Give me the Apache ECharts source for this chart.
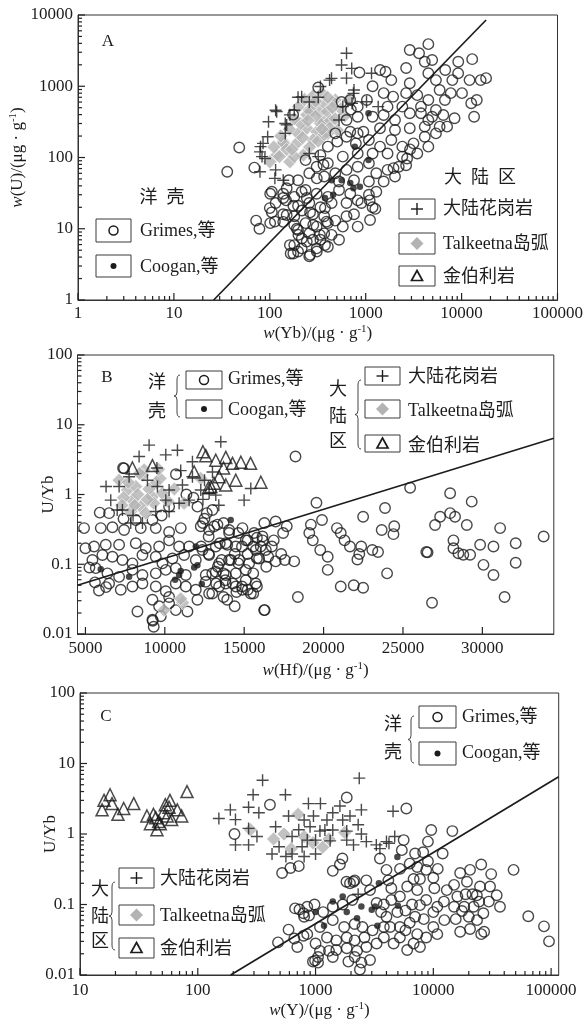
<!DOCTYPE html>
<html>
<head>
<meta charset="utf-8">
<script src="https://cdn.jsdelivr.net/npm/echarts@6/dist/echarts.min.js"></script>
<style>
  html, body { margin: 0; padding: 0; background: #fff; }
  #chart { width: 584px; height: 1022px; }
</style>
</head>
<body>
<div id="chart"></div>
<script>
// ---------- Tick labels ----------
const aXTicks = [1, 10, 100, 1000, 10000, 100000];
const aYTicks = [1, 10, 100, 1000, 10000];
const bXTicks = [5000, 10000, 15000, 20000, 25000, 30000];
const bYTicks = [0.01, 0.1, 1, 10, 100];
const cXTicks = [10, 100, 1000, 10000, 100000];
const cYTicks = [0.01, 0.1, 1, 10, 100];

// ---------- Panel A: w(U) vs w(Yb) ----------
const aGrimes = [
  [2880,3230],[3600,2900],[4500,3900],[4130,2210],[4930,2340],[9230,2210],[12900,2400],
  [1410,1690],[1610,1600],[2640,1800],[4500,1520],[6750,1690],[9200,1520],[12100,1220],[15800,1220],[18000,1300],
  [860,1560],[1180,1000],[320,960],[1850,1220],[2880,1100],[5400,1220],[8000,1220],[14400,640],[13500,374],
  [690,640],[1030,640],[1540,800],[1930,714],[2640,800],[3450,750],[4500,640],[5900,885],[7700,800],[10100,800],
  [12600,576],[1690,517],[825,517],[2410,517],[3770,517],[6700,640],
  [631,336],[825,374],[1180,374],[1540,395],[2020,336],[2880,417],[3770,417],[4930,374],[6450,395],[8440,355],
  [5900,271],[4130,271],[2880,257],[2020,243],[1410,257],[945,230],[690,230],[4500,336],[7060,271],[5400,464],
  [403,142],[505,167],[631,196],[790,158],[1080,176],[1410,142],[1850,176],[2410,142],[3150,158],[4130,196],
  [3450,114],[2410,103],[1690,114],[1180,114],[825,114],[577,103],[337,108],[5400,218],[4500,142],[825,218],[482,218],
  [236,92],[308,74],[403,83],[482,60],[631,67],[825,74],[1080,83],[1290,60],[1690,67],[2020,54],[1540,46],[1080,46],
  [755,48],[527,46],[369,54],[258,60],[197,48],[158,48],[2210,74],[2640,78],
  [138,31],[180,28],[236,35],[308,31],[403,28],[527,35],[690,31],[825,25],[1080,30],[1290,33],[1180,20],[902,23],
  [631,23],[441,23],[337,20],[258,23],[197,21],[148,25],[101,31],[115,23],
  [105,17],[138,16],[180,15],[216,18],[282,16],[369,15],[482,13],[631,15],[755,16],[825,10.7],[577,10.7],[403,12],
  [308,10.7],[236,12],[180,11.3],[138,12.5],[101,12],
  [197,9.6],[258,8.6],[337,7.0],[441,8.2],[527,7.0],[403,5.6],[308,5.3],[258,4.1],[197,4.8],[165,4.5],[216,7.3],
  [282,7.0],[369,8.6],[180,5.9],
  [36,63],[48,138],[69,72],[72,13],[78,10],[175,400],[560,600],[700,470],
  [105,33],[100,19.5],[113,12.6],[138,27],[150,15.6],[176,21],[191,10],[162,5.9],[176,4.5],[199,8.2],[215,5.3],
  [243,6.6],[263,4.3],[309,4.8],[333,8.2],[284,11.3],[263,17],[243,27],[215,33],[309,51],[363,79],[376,19.5],
  [390,12.6],[376,5.9],[150,37],[1110,13.3],[1260,19],[1100,25],[2700,97],[2900,130],[1950,71]
];
const aCoogan = [
  [1070,417],[770,142],[1070,92],[442,48],[562,48],[690,44],[745,37],[870,39],[376,27],[457,30]
];
const aGranite = [
  [631,2900],[560,1990],[715,1780],[1150,1520],[440,1290],[420,1220],[337,990],[631,1300],[755,885],[745,795],
  [1020,605],[320,700],[215,710],[197,700],[258,600],[118,440],[115,460],[97,318],[145,300],[150,287],[180,460],
  [162,397],[145,218],[85,158],[95,196],[79,120],[89,97],[80,142],[83,103],[79,63],[113,51],[115,67],[138,48],
  [258,114],[320,103],[577,517],[527,336],[720,576],[1350,517]
];
const aTalkeetna = [
  [243,397],[333,440],[363,318],[243,257],[309,230],[138,166],[191,158],[224,108],[118,108],[162,87],[100,87],
  [258,464],[369,576],[482,641],[337,302],[505,243],[197,218],[138,158],[126,103],[180,103],[282,176],[403,218],
  [605,384],[660,641],[455,605],[397,440],[263,440],[150,130],[210,300],[430,330],[290,560],
  [200,520],[230,650],[280,720],[350,800],[400,700],[300,380],[180,350],[160,250],[220,190],[260,140],[320,170],
  [370,210],[420,260],[480,350],[550,480],[130,200],[110,140],[170,130],[300,620],[250,330],[350,250],[450,500]
];
const aTrend = [[26,1],[18000,8500]];

// ---------- Panel B: U/Yb vs w(Hf) ----------
const bGrimes = [
  [18230,3.5],[19550,0.76],[19900,0.43],[19200,0.37],[19100,0.28],[19320,0.22],[19790,0.16],[20260,0.128],
  [20260,0.083],[20840,0.33],[21080,0.28],[21320,0.22],[21660,0.18],[22250,0.14],[22490,0.48],[22370,0.18],
  [22130,0.117],[23070,0.16],[23430,0.15],[23870,0.64],[23660,0.31],[24450,0.35],[24400,0.27],[24000,0.074],
  [25450,1.25],[21080,0.048],[21900,0.05],[22490,0.046],[18380,0.034],[16290,0.022],[26470,0.15],[26550,0.148],
  [26830,0.028],[27020,0.366],[27340,0.48],[27970,0.54],[28280,0.48],[27970,1.04],[28180,0.22],[28180,0.17],
  [28490,0.144],[28800,0.137],[29230,0.137],[29020,0.366],[29330,0.79],[29860,0.19],[30070,0.098],[30700,0.18],
  [30700,0.07],[31120,0.33],[31400,0.034],[32100,0.20],[32100,0.105],[33860,0.25],
  [17680,0.35],[16980,0.41],[16270,0.39],[17450,0.28],[16860,0.22],[16160,0.22],[15800,0.24],[16040,0.18],
  [16740,0.18],[17330,0.14],[17560,0.115],[18150,0.11],[16510,0.128],[16980,0.11],[16390,0.092],[15800,0.122],
  [15220,0.14],[15570,0.18],[15220,0.22],[14630,0.28],[14860,0.18],[14400,0.14],[13930,0.19],[14160,0.115],
  [14630,0.103],[15100,0.083],[15570,0.074],[15800,0.048],[15570,0.038],[15220,0.043],[14860,0.048],[14510,0.04],
  [14280,0.053],[13810,0.059],[13700,0.074],[13340,0.092],[13580,0.115],[12990,0.074],[13230,0.053],[13700,0.034],
  [13930,0.031],[14400,0.025],[12990,0.038],[12760,0.14],[12290,0.18],[12760,0.25],[13460,0.20],[14050,0.28],
  [13700,0.39],[13110,0.35],[12400,0.39],[12640,0.54],
  [4915,0.33],[5965,0.33],[6700,0.34],[7435,0.31],[8485,0.33],[9430,0.33],[10270,0.29],[11005,0.33],[12265,0.35],
  [12790,0.31],[13315,0.37],[14050,0.31],[14890,0.33],[15625,0.28],[16150,0.25],
  [5545,0.18],[6280,0.19],[7120,0.19],[8170,0.20],[8800,0.17],[9640,0.18],[10270,0.22],[10900,0.18],[11530,0.18],
  [12370,0.16],[13210,0.18],[13840,0.20],[14470,0.18],[15100,0.22],[15730,0.16],[16360,0.16],
  [5440,0.115],[6070,0.136],[6700,0.128],[7330,0.115],[7960,0.103],[8590,0.136],[9430,0.128],[9850,0.103],
  [10480,0.121],[11215,0.136],[11950,0.115],[12790,0.136],[13420,0.103],[14050,0.115],[14680,0.115],[15310,0.103],
  [15940,0.121],
  [5650,0.088],[6385,0.074],[7120,0.066],[7960,0.083],[8590,0.070],[9430,0.074],[10060,0.083],[10690,0.088],
  [11320,0.070],[12580,0.070],[13210,0.078],[13840,0.070],[14470,0.074],[15100,0.059],[15730,0.053],
  [6490,0.053],[7225,0.043],[7960,0.048],[8590,0.053],[9430,0.048],[10060,0.041],[10690,0.053],[11320,0.048],
  [11950,0.043],[12580,0.056],[13420,0.048],[13840,0.053],[14470,0.048],[14890,0.043],[15415,0.038],
  [8275,0.021],[9220,0.031],[9640,0.025],[10270,0.034],[10690,0.022],[11425,0.021],[12055,0.031],[12790,0.038],
  [9220,0.016],[9745,0.018],[10270,0.0275],[16255,0.022],[9240,0.0155],[9300,0.0127],
  [5250,0.09],[5600,0.055],[5850,0.042],[6300,0.047],[5000,0.17],
  [7435,2.37],[10700,1.95],[12055,0.67],[10270,0.67],[8170,0.43],[9220,0.43],[6490,0.54],[11360,1.0],[12500,0.45],
  [9800,0.5],[7400,0.45],[5900,0.55],[11800,0.9],[13000,0.6],[7370,2.4]
];
const bCoogan = [
  [5965,0.085],[7750,0.066],[10900,0.070],[11000,0.080],[10650,0.060],[11850,0.090],[12050,0.097],[12330,0.052],
  [11950,0.18],[14150,0.43]
];
const bGranite = [
  [9010,5.1],[13525,5.7],[8380,3.5],[10060,3.7],[10795,4.3],[11740,2.95],[7120,1.3],[7750,1.8],[6595,0.83],
  [7330,0.60],[8905,1.6],[9535,1.3],[10270,1.16],[11110,1.37],[11740,1.8],[12265,1.16],[12790,1.04],[13210,0.98],
  [15415,1.22],[14995,0.83],[9430,0.57],[10270,0.57],[8590,0.39],[7855,0.39],[10060,0.83],[10900,0.75],[11530,0.83],
  [6300,1.3],[7000,0.6],[9500,2.4],[12500,1.6],[13000,2.1],[8000,0.5],[11000,2.2],[12400,0.85],[13400,0.7]
];
const bTalkeetna = [
  [8700,2.25],[7650,1.16],[8170,1.3],[7960,0.83],[8485,0.67],[9220,0.93],[8800,0.54],[9850,1.04],[12265,1.7],
  [11215,0.75],[7120,1.6],[7855,0.57],[9430,1.45],[9950,0.022],[11120,0.028],[11000,0.032],
  [7400,0.9],[7700,1.5],[8300,1.0],[8600,1.9],[9000,1.2],[9300,0.75],[9700,1.7],[8100,0.7],[7300,0.7],
  [8900,0.85],[10200,0.8],[10600,1.2],[8400,2.0],[9600,2.3]
];
const bKimberlite = [
  [7960,2.4],[9220,2.6],[11850,2.1],[12580,3.6],[13210,3.1],[13840,3.4],[14260,2.8],[14790,2.9],[13100,1.45],
  [13420,1.8],[13840,1.37],[14470,1.6],[16050,1.5],[15400,2.8],[12900,1.3],[13700,2.4],[12400,4.1],[12750,1.25]
];
const bTrend = [[4500,0.05],[34500,6.4]];

// ---------- Panel C: U/Yb vs w(Y) ----------
const cGrimes = [
  [1840,3.3],[5900,2.3],[1690,0.45],[1610,0.37],[1400,0.30],[3520,0.45],[5210,0.32],[5600,0.82],[5400,0.59],
  [9600,1.14],[9000,0.78],[14500,1.1],[12000,0.53],[25500,0.37],[31000,0.27],[20500,0.31],[16900,0.28],[19300,0.21],
  [24900,0.18],[30300,0.18],[34500,0.135],[36800,0.093],[29600,0.11],[23400,0.135],[18800,0.14],[15000,0.19],
  [16000,0.13],[13000,0.16],[22000,0.093],[26600,0.075],[18300,0.093],[15000,0.093],[12300,0.11],[10200,0.17],
  [10000,0.24],[8700,0.31],[7300,0.34],[7700,0.23],[10900,0.32],[9000,0.41],[7000,0.53],[8200,0.55],[6300,0.38],
  [6800,0.23],[6000,0.18],[7300,0.16],[8700,0.116],[10800,0.093],[7700,0.098],[6600,0.10],[5200,0.13],[4400,0.17],
  [4400,0.116],[4950,0.078],[5800,0.082],[7000,0.067],[8300,0.062],[10000,0.078],[12400,0.06],[15500,0.062],
  [20000,0.067],[25500,0.038],[16900,0.041],[10000,0.048],[10800,0.038],[8700,0.034],[7300,0.038],[6300,0.055],
  [5200,0.048],[5800,0.043],[7700,0.025],[6800,0.028],[5200,0.034],[4600,0.028],[4300,0.048],[4000,0.067],
  [3800,0.10],[3600,0.078],[3300,0.105],[2900,0.16],[2700,0.22],[4150,0.22],[4000,0.31],[2150,0.22],[1960,0.2],
  [2050,0.116],[1700,0.10],[1400,0.093],[1160,0.078],[980,0.10],[850,0.093],[800,0.067],[850,0.038],[1090,0.048],
  [1400,0.06],[1750,0.048],[2150,0.053],[2500,0.048],[3050,0.043],[3800,0.048],[2600,0.034],[2150,0.031],
  [1840,0.034],[1500,0.031],[1250,0.034],[1000,0.028],[1090,0.022],[1300,0.022],[1500,0.0226],[1840,0.024],
  [2250,0.022],[2700,0.025],[3300,0.028],[3800,0.034],[950,0.0155],[1050,0.018],[2150,0.018],[2450,0.015],
  [2380,0.012],[2900,0.0163],[1900,0.0155],[1400,0.018],[6000,0.0226],
  [480,0.029],[590,0.044],[660,0.033],[700,0.025],[790,0.036],[670,0.088],[730,0.085],[790,0.075],[880,0.07],
  [990,0.016],[1050,0.015],[205,1.0],[410,2.6],[520,0.28],[612,0.33],[720,0.35],[1830,0.21],[2100,0.21],
  [48000,0.31],[64000,0.068],[87000,0.049],[96000,0.03],[27000,0.041],[23500,0.06],[20500,0.045],[17500,0.081],
  [24500,0.11],[21500,0.14]
];
const cCoogan = [
  [1000,0.078],[1180,0.05],[1400,0.11],[1700,0.13],[1840,0.078],[2250,0.064],[2450,0.094],[3000,0.084],
  [3200,0.094],[3350,0.05],[3450,0.20],[4950,0.47],[5000,0.096]
];
const cGranite = [
  [355,5.8],[2350,6.2],[295,3.6],[151,1.66],[189,2.2],[209,1.6],[270,2.4],[330,2.0],[270,1.2],[318,0.92],
  [209,0.7],[270,0.7],[458,1.27],[555,3.6],[590,1.8],[720,1.15],[870,2.7],[1100,2.7],[800,1.58],[632,0.92],
  [490,0.66],[769,0.66],[1000,0.82],[1200,1.14],[800,0.48],[560,0.48],[427,0.52],[632,0.52],
  [1610,2.5],[1400,2.0],[960,1.8],[1250,1.58],[1700,1.58],[1960,1.8],[2450,2.2],[2300,1.35],[898,1.27],[1090,1.1],
  [1400,1.14],[1840,1.1],[2450,1.0],[850,0.82],[1330,0.8],[1840,0.82],[2100,0.7],[2700,0.78],[3280,0.7],[4000,0.78],
  [4700,0.92],[4550,2.1],[1000,0.52],[3520,0.62],[2300,0.14],[4200,0.74]
];
const cTalkeetna = [
  [280,1.15],[440,0.85],[710,1.9],[620,0.62],[800,0.92],[1150,0.65],[1300,0.85],[1770,1.05],[540,1.0],[950,0.75]
];
const cKimberlite = [
  [15.4,2.2],[16,3.0],[18,3.6],[18.7,2.7],[21,1.9],[23.5,2.3],[28.6,2.7],[37,1.8],[39.6,1.4],[45,1.15],[46.5,1.5],
  [51,2.0],[57,2.4],[58,3.0],[60,1.6],[67,2.2],[73,1.8],[81,4.0],[55,1.8],[48,1.4],[42,1.9],[53,2.6],[44,1.7]
];
const cTrend = [[190,0.01],[116000,6.5]];

// ---------- Styling ----------
const INK = '#1c1c1c';
const FRAME = '#333';
const GREY = '#b3b3b3';
const SERIF = '"Liberation Serif", "DejaVu Serif", serif';
const MIXED = '"Liberation Serif", "Noto Sans CJK SC", serif';
const fmt = v => String(+Number(v).toPrecision(6));

// 2..9 sub-ticks of every decade in [lo, hi)
function minorTicks(lo, hi) {
  const out = [];
  for (let d = lo; d < hi * 0.999; d *= 10) {
    for (let k = 2; k <= 9; k++) out.push(+(d * k).toPrecision(6));
  }
  return out;
}

const EPS = 1e-9;
function mainAxis(kind, gridIndex, min, max, ticks, extra) {
  return Object.assign({
    type: kind, gridIndex: gridIndex, logBase: 10,
    min: kind === 'log' ? min * (1 - EPS) : min,
    max: kind === 'log' ? max * (1 + EPS) : max,
    silent: true, nameMoveOverlap: false,
    axisLine: { show: true, onZero: false, lineStyle: { color: FRAME, width: 1 } },
    axisTick: { show: false },
    axisLabel: { show: true, customValues: ticks, formatter: fmt, margin: 5, color: INK, fontFamily: SERIF, fontSize: 17 },
    splitLine: { show: false }, minorTick: { show: false }, axisPointer: { show: false }
  }, extra || {});
}

const nameStyle = {
  fontFamily: SERIF, fontSize: 17, color: INK, lineHeight: 20,
  rich: {
    i: { fontFamily: SERIF, fontSize: 17, fontStyle: 'italic', color: INK, lineHeight: 20 },
    s: { fontFamily: SERIF, fontSize: 11, color: INK, verticalAlign: 'top', lineHeight: 20 }
  }
};

const xAxes = [
  mainAxis('log', 0, 1, 100000, aXTicks, { position: 'bottom', name: '{i|w}(Yb)/(μg · g{s|-1})',
    nameLocation: 'middle', nameGap: 24, nameTextStyle: nameStyle }),
  mainAxis('value', 1, 4500, 34500, bXTicks, { position: 'bottom', name: '{i|w}(Hf)/(μg · g{s|-1})',
    nameLocation: 'middle', nameGap: 27, nameTextStyle: nameStyle,
    axisLabel: { show: true, customValues: bXTicks, formatter: fmt, margin: 6, color: INK, fontFamily: SERIF, fontSize: 17 } }),
  mainAxis('log', 2, 10, 116000, cXTicks, { position: 'bottom', name: '{i|w}(Y)/(μg · g{s|-1})',
    nameLocation: 'middle', nameGap: 26, nameTextStyle: nameStyle,
    axisLabel: { show: true, customValues: cXTicks, formatter: fmt, margin: 7, color: INK, fontFamily: SERIF, fontSize: 17 } })
];
const yAxes = [
  mainAxis('log', 0, 1, 10000, aYTicks, { position: 'left', name: '{i|w}(U)/(μg · g{s|-1})',
    nameLocation: 'middle', nameRotate: 90, nameGap: 50, nameTextStyle: nameStyle }),
  mainAxis('log', 1, 0.01, 100, bYTicks, { position: 'left', name: 'U/Yb',
    nameLocation: 'middle', nameRotate: 90, nameGap: 19, nameTextStyle: nameStyle }),
  mainAxis('log', 2, 0.01, 100, cYTicks, { position: 'left', name: 'U/Yb',
    nameLocation: 'middle', nameRotate: 90, nameGap: 19, nameTextStyle: nameStyle })
];

// ---------- Marks ----------
const PLUS = 'path://M0,6L12,6M6,0L6,12';
const markStyles = {
  grimes: { symbol: 'circle', symbolSize: 10.5, itemStyle: { color: 'rgba(0,0,0,0)', borderColor: INK, borderWidth: 1.4 } },
  coogan: { symbol: 'circle', symbolSize: 6.5, itemStyle: { color: INK, borderWidth: 0 } },
  granite: { symbol: PLUS, symbolSize: 12, itemStyle: { color: 'rgba(0,0,0,0)', borderColor: INK, borderWidth: 1.4 } },
  talkeetna: { symbol: 'diamond', symbolSize: 14, itemStyle: { color: GREY, borderColor: '#fff', borderWidth: 0.8 } },
  kimberlite: { symbol: 'triangle', symbolSize: 12, itemStyle: { color: 'rgba(0,0,0,0)', borderColor: INK, borderWidth: 1.5 } }
};
function scatter(kind, data, xi, yi) {
  const s = markStyles[kind];
  return {
    type: 'scatter', name: kind, data: data, xAxisIndex: xi, yAxisIndex: yi,
    symbol: s.symbol, symbolSize: s.symbolSize, itemStyle: s.itemStyle,
    silent: true, emphasis: { disabled: true }, animation: false
  };
}
function trend(data, xi, yi) {
  return {
    type: 'line', data: data, xAxisIndex: xi, yAxisIndex: yi, showSymbol: false, symbol: 'none',
    lineStyle: { color: INK, width: 1.7 }, silent: true, emphasis: { disabled: true }, animation: false, z: 3
  };
}

const series = [
  scatter('talkeetna', aTalkeetna, 0, 0),
  scatter('grimes', aGrimes, 0, 0),
  scatter('granite', aGranite, 0, 0),
  scatter('coogan', aCoogan, 0, 0),
  trend(aTrend, 0, 0),

  scatter('grimes', bGrimes, 1, 1),
  scatter('talkeetna', bTalkeetna, 1, 1),
  scatter('granite', bGranite, 1, 1),
  scatter('kimberlite', bKimberlite, 1, 1),
  scatter('coogan', bCoogan, 1, 1),
  trend(bTrend, 1, 1),

  scatter('grimes', cGrimes, 2, 2),
  scatter('talkeetna', cTalkeetna, 2, 2),
  scatter('granite', cGranite, 2, 2),
  scatter('kimberlite', cKimberlite, 2, 2),
  scatter('coogan', cCoogan, 2, 2),
  trend(cTrend, 2, 2)
];

// ---------- Legend boxes and panel notes ----------
function txt(x, y, text, size, align) {
  return { type: 'text', x: x, y: y, silent: true, z: 10,
    style: { text: text, fontFamily: MIXED, fontSize: size || 18, fill: INK, align: align || 'left', verticalAlign: 'middle' } };
}
function box(x, y, w, h) {
  return { type: 'rect', silent: true, z: 10, shape: { x: x, y: y, width: w, height: h },
    style: { fill: '#fff', stroke: '#3a3a3a', lineWidth: 1 } };
}
function keyIcon(kind, cx, cy) {
  if (kind === 'grimes') return [{ type: 'circle', silent: true, z: 11, shape: { cx: cx, cy: cy, r: 4.5 },
    style: { fill: 'none', stroke: INK, lineWidth: 1.5 } }];
  if (kind === 'coogan') return [{ type: 'circle', silent: true, z: 11, shape: { cx: cx, cy: cy, r: 3 },
    style: { fill: INK } }];
  if (kind === 'granite') return [
    { type: 'line', silent: true, z: 11, shape: { x1: cx - 6, y1: cy, x2: cx + 6, y2: cy }, style: { stroke: INK, lineWidth: 1.4 } },
    { type: 'line', silent: true, z: 11, shape: { x1: cx, y1: cy - 6, x2: cx, y2: cy + 6 }, style: { stroke: INK, lineWidth: 1.4 } }];
  if (kind === 'talkeetna') return [{ type: 'polygon', silent: true, z: 11,
    shape: { points: [[cx, cy - 6.5], [cx + 6.5, cy], [cx, cy + 6.5], [cx - 6.5, cy]] }, style: { fill: GREY } }];
  return [{ type: 'polygon', silent: true, z: 11,
    shape: { points: [[cx, cy - 5.5], [cx + 5.5, cy + 4.5], [cx - 5.5, cy + 4.5]] },
    style: { fill: 'none', stroke: INK, lineWidth: 1.7 } }];
}
function entry(kind, bx, by, bw, bh, label, tx, ty) {
  return [box(bx, by, bw, bh)].concat(keyIcon(kind, bx + bw / 2, by + bh / 2), [txt(tx, ty, label)]);
}
function brace(x, y1, y2) {
  const ym = (y1 + y2) / 2, st = { fill: 'none', stroke: '#444', lineWidth: 1 };
  const seg = s => ({ type: 'bezierCurve', silent: true, z: 10, shape: s, style: st });
  return [
    seg({ x1: x + 3, y1: y1, cpx1: x, cpy1: y1, x2: x, y2: y1 + 5 }),
    { type: 'line', silent: true, z: 10, shape: { x1: x, y1: y1 + 5, x2: x, y2: ym - 4 }, style: st },
    seg({ x1: x, y1: ym - 4, cpx1: x, cpy1: ym, x2: x - 3, y2: ym }),
    seg({ x1: x - 3, y1: ym, cpx1: x, cpy1: ym, x2: x, y2: ym + 4 }),
    { type: 'line', silent: true, z: 10, shape: { x1: x, y1: ym + 4, x2: x, y2: y2 - 5 }, style: st },
    seg({ x1: x, y1: y2 - 5, cpx1: x, cpy1: y2, x2: x + 3, y2: y2 })
  ];
}

const OCEAN = '洋壳', CONT = '大陆区';
const L_GRIMES = 'Grimes,等', L_COOGAN = 'Coogan,等';
const L_GRANITE = '大陆花岗岩', L_TALK = 'Talkeetna岛弧', L_KIMB = '金伯利岩';

const graphics = [].concat(
  // panel A
  [txt(108, 42, 'A', 17, 'center')],
  [txt(162, 198, OCEAN.split('').join('  '), 18, 'center')],
  entry('grimes', 96, 219, 35, 23, L_GRIMES, 140, 231),
  entry('coogan', 96, 255, 35, 22, L_COOGAN, 140, 267),
  [txt(480, 178, CONT.split('').join('  '), 18, 'center')],
  entry('granite', 399, 199, 36, 20, L_GRANITE, 443, 209),
  entry('talkeetna', 399, 233, 36, 21, L_TALK, 443, 244),
  entry('kimberlite', 399, 266, 36, 20, L_KIMB, 443, 277),
  // panel B
  [txt(107, 378, 'B', 17, 'center')],
  [txt(157, 383, OCEAN[0], 18, 'center'), txt(157, 412, OCEAN[1], 18, 'center')],
  brace(177, 375, 417),
  entry('grimes', 186, 371, 36, 18, L_GRIMES, 228, 379),
  entry('coogan', 186, 400, 36, 18, L_COOGAN, 228, 410),
  [txt(338, 390, CONT[0], 18, 'center'), txt(338, 417, CONT[1], 18, 'center'), txt(338, 442, CONT[2], 18, 'center')],
  brace(358, 380, 449),
  entry('granite', 365, 367, 35, 18, L_GRANITE, 408, 377),
  entry('talkeetna', 365, 400, 35, 18, L_TALK, 408, 411),
  entry('kimberlite', 365, 435, 35, 17, L_KIMB, 408, 446),
  // panel C
  [txt(106, 717, 'C', 17, 'center')],
  [txt(393, 725, OCEAN[0], 18, 'center'), txt(393, 753, OCEAN[1], 18, 'center')],
  brace(411, 716, 763),
  entry('grimes', 419, 706, 37, 22, L_GRIMES, 462, 717),
  entry('coogan', 419, 742, 37, 23, L_COOGAN, 462, 753),
  [txt(100, 890, CONT[0], 18, 'center'), txt(100, 917, CONT[1], 18, 'center'), txt(100, 942, CONT[2], 18, 'center')],
  brace(112, 882, 950),
  entry('granite', 119, 868, 35, 20, L_GRANITE, 160, 879),
  entry('talkeetna', 119, 905, 35, 20, L_TALK, 160, 916),
  entry('kimberlite', 119, 938, 35, 20, L_KIMB, 160, 949)
);

const option = {
  backgroundColor: '#fff',
  animation: false,
  textStyle: { fontFamily: SERIF },
  tooltip: { show: false },
  grid: [
    { left: 78, top: 15, width: 479.5, height: 285, show: true, borderColor: FRAME, borderWidth: 1, containLabel: false, outerBoundsMode: 'none' },
    { left: 77.5, top: 355, width: 476.3, height: 279, show: true, borderColor: FRAME, borderWidth: 1, containLabel: false, outerBoundsMode: 'none' },
    { left: 80, top: 693, width: 478.7, height: 282, show: true, borderColor: FRAME, borderWidth: 1, containLabel: false, outerBoundsMode: 'none' }
  ],
  xAxis: xAxes,
  yAxis: yAxes,
  series: series
};

const chart = echarts.init(document.getElementById('chart'), null, { renderer: 'canvas' });
chart.setOption(option);

// Pixel position of a data point in a grid, via the chart's own axis scales.
function toPixel(gridIndex, x, y) {
  const ok = p => Array.isArray(p) && isFinite(p[0]) && isFinite(p[1]);
  let p = null;
  try { p = chart.convertToPixel({ gridIndex: gridIndex }, [x, y]); } catch (e) { p = null; }
  if (!ok(p)) {
    try { p = chart.convertToPixel({ xAxisIndex: gridIndex, yAxisIndex: gridIndex }, [x, y]); } catch (e) { p = null; }
  }
  return ok(p) ? p : null;
}

// Inward tick marks on the bottom and left axes: long at labelled values, short at the 2..9 sub-divisions.
const tickEls = [];
function addTicks(gridIndex, xMin, yMin, xMajor, xMinor, yMajor, yMinor) {
  const seg = (x1, y1, x2, y2) => tickEls.push({ type: 'line', silent: true, z: 12,
    shape: { x1: x1, y1: y1, x2: x2, y2: y2 }, style: { stroke: '#222', lineWidth: 1.2 } });
  const xTick = (v, len) => { const p = toPixel(gridIndex, v, yMin); if (p) seg(p[0], p[1], p[0], p[1] - len); };
  const yTick = (v, len) => { const p = toPixel(gridIndex, xMin, v); if (p) seg(p[0], p[1], p[0] + len, p[1]); };
  xMajor.forEach(v => xTick(v, 7));
  xMinor.forEach(v => xTick(v, 4));
  yMajor.forEach(v => yTick(v, 7));
  yMinor.forEach(v => yTick(v, 4));
}
addTicks(0, 1, 1, aXTicks, minorTicks(1, 100000), aYTicks, minorTicks(1, 10000));
addTicks(1, 4500, 0.01, bXTicks, [], bYTicks, minorTicks(0.01, 100));
addTicks(2, 10, 0.01, cXTicks, minorTicks(10, 100000), cYTicks, minorTicks(0.01, 100));

chart.setOption({ graphic: { elements: graphics.concat(tickEls) } });
</script>
</body>
</html>
